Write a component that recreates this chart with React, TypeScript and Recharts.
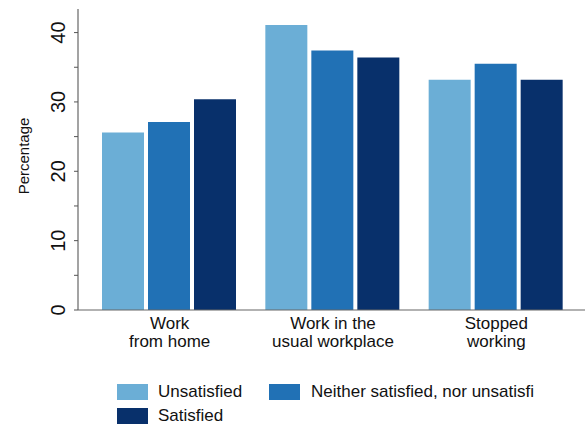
import React from "react";
import { BarChart, Bar, XAxis, YAxis, Legend } from "recharts";

const categories = ["Work\nfrom home", "Work in the\nusual workplace", "Stopped\nworking"];
const unsatisfied = [25.6, 41.1, 33.2];
const neither = [27.1, 37.4, 35.5];
const satisfied = [30.4, 36.4, 33.2];
const yTicks = [0, 5, 10, 15, 20, 25, 30, 35, 40];
const seriesNames = ["Unsatisfied", "Neither satisfied, nor unsatisfi", "Satisfied"];

const colors = ["#6baed6", "#2171b5", "#08306b"];
const FONT = '"Liberation Sans", Arial, Helvetica, sans-serif';

const data = categories.map((c, i) => ({
  name: c,
  u: unsatisfied[i],
  n: neither[i],
  s: satisfied[i],
}));

const YTick = (props: any) => {
  const { y, payload } = props;
  if (payload.value % 10 !== 0) return null;
  const cx = 58;
  return (
    <text
      x={cx}
      y={y}
      transform={`rotate(-90, ${cx}, ${y})`}
      textAnchor="middle"
      dominantBaseline="central"
      fontSize={20}
      fontFamily={FONT}
      fill="#111"
    >
      {payload.value}
    </text>
  );
};

const XTick = (props: any) => {
  const { x, payload } = props;
  const lines = String(payload.value).split("\n");
  return (
    <text textAnchor="middle" fontSize={17} fontFamily={FONT} fill="#111">
      {lines.map((l, i) => (
        <tspan key={i} x={x} y={329 + i * 17.5}>
          {l}
        </tspan>
      ))}
    </text>
  );
};

const YLabel = () => {
  const cx = 23;
  const cy = 156;
  return (
    <text
      x={cx}
      y={cy}
      transform={`rotate(-90, ${cx}, ${cy})`}
      textAnchor="middle"
      dominantBaseline="central"
      fontSize={15}
      fontFamily={FONT}
      fill="#111"
    >
      Percentage
    </text>
  );
};

const LegendContent = () => {
  const items = [
    { name: seriesNames[0], color: colors[0], sx: 117, sy: 384, tx: 158 },
    { name: seriesNames[1], color: colors[1], sx: 269, sy: 384, tx: 311 },
    { name: seriesNames[2], color: colors[2], sx: 117, sy: 408, tx: 158 },
  ];
  return (
    <div style={{ position: "relative", width: 586, height: 60 }}>
      {items.map((it, i) => (
        <React.Fragment key={i}>
          <div
            style={{
              position: "absolute",
              left: it.sx,
              top: it.sy - 380,
              width: 31,
              height: 16,
              background: it.color,
            }}
          />
          <div
            style={{
              position: "absolute",
              left: it.tx,
              top: it.sy - 380 - 2,
              fontSize: 17,
              lineHeight: "20px",
              fontFamily: FONT,
              color: "#111",
              whiteSpace: "nowrap",
            }}
          >
            {it.name}
          </div>
        </React.Fragment>
      ))}
    </div>
  );
};

export default function App() {
  return (
    <div style={{ position: "absolute", left: 0, top: 0, width: 586, height: 430, background: "#fff" }}>
      <BarChart
        width={586}
        height={430}
        data={data}
        margin={{ top: 9, right: 1, left: 0, bottom: 80 }}
        barCategoryGap={14}
        barGap={4}
      >
        <XAxis
          dataKey="name"
          height={40}
          padding={{ left: 10, right: 7 }}
          tickLine={false}
          axisLine={{ stroke: "#666", strokeWidth: 1.2 }}
          tick={<XTick />}
          interval={0}
        />
        <YAxis
          width={78}
          domain={[0, 43.4]}
          ticks={yTicks}
          interval={0}
          tickSize={4}
          tickLine={{ stroke: "#555" }}
          axisLine={{ stroke: "#666", strokeWidth: 1.2 }}
          tick={<YTick />}
          label={<YLabel />}
        />
        <Legend
          layout="horizontal"
          verticalAlign="middle"
          align="center"
          wrapperStyle={{ position: "absolute", left: 0, top: 380, width: 586, height: 60 }}
          content={<LegendContent />}
        />
        <Bar dataKey="u" name={seriesNames[0]} fill={colors[0]} isAnimationActive={false} />
        <Bar dataKey="n" name={seriesNames[1]} fill={colors[1]} isAnimationActive={false} />
        <Bar dataKey="s" name={seriesNames[2]} fill={colors[2]} isAnimationActive={false} />
      </BarChart>
    </div>
  );
}
